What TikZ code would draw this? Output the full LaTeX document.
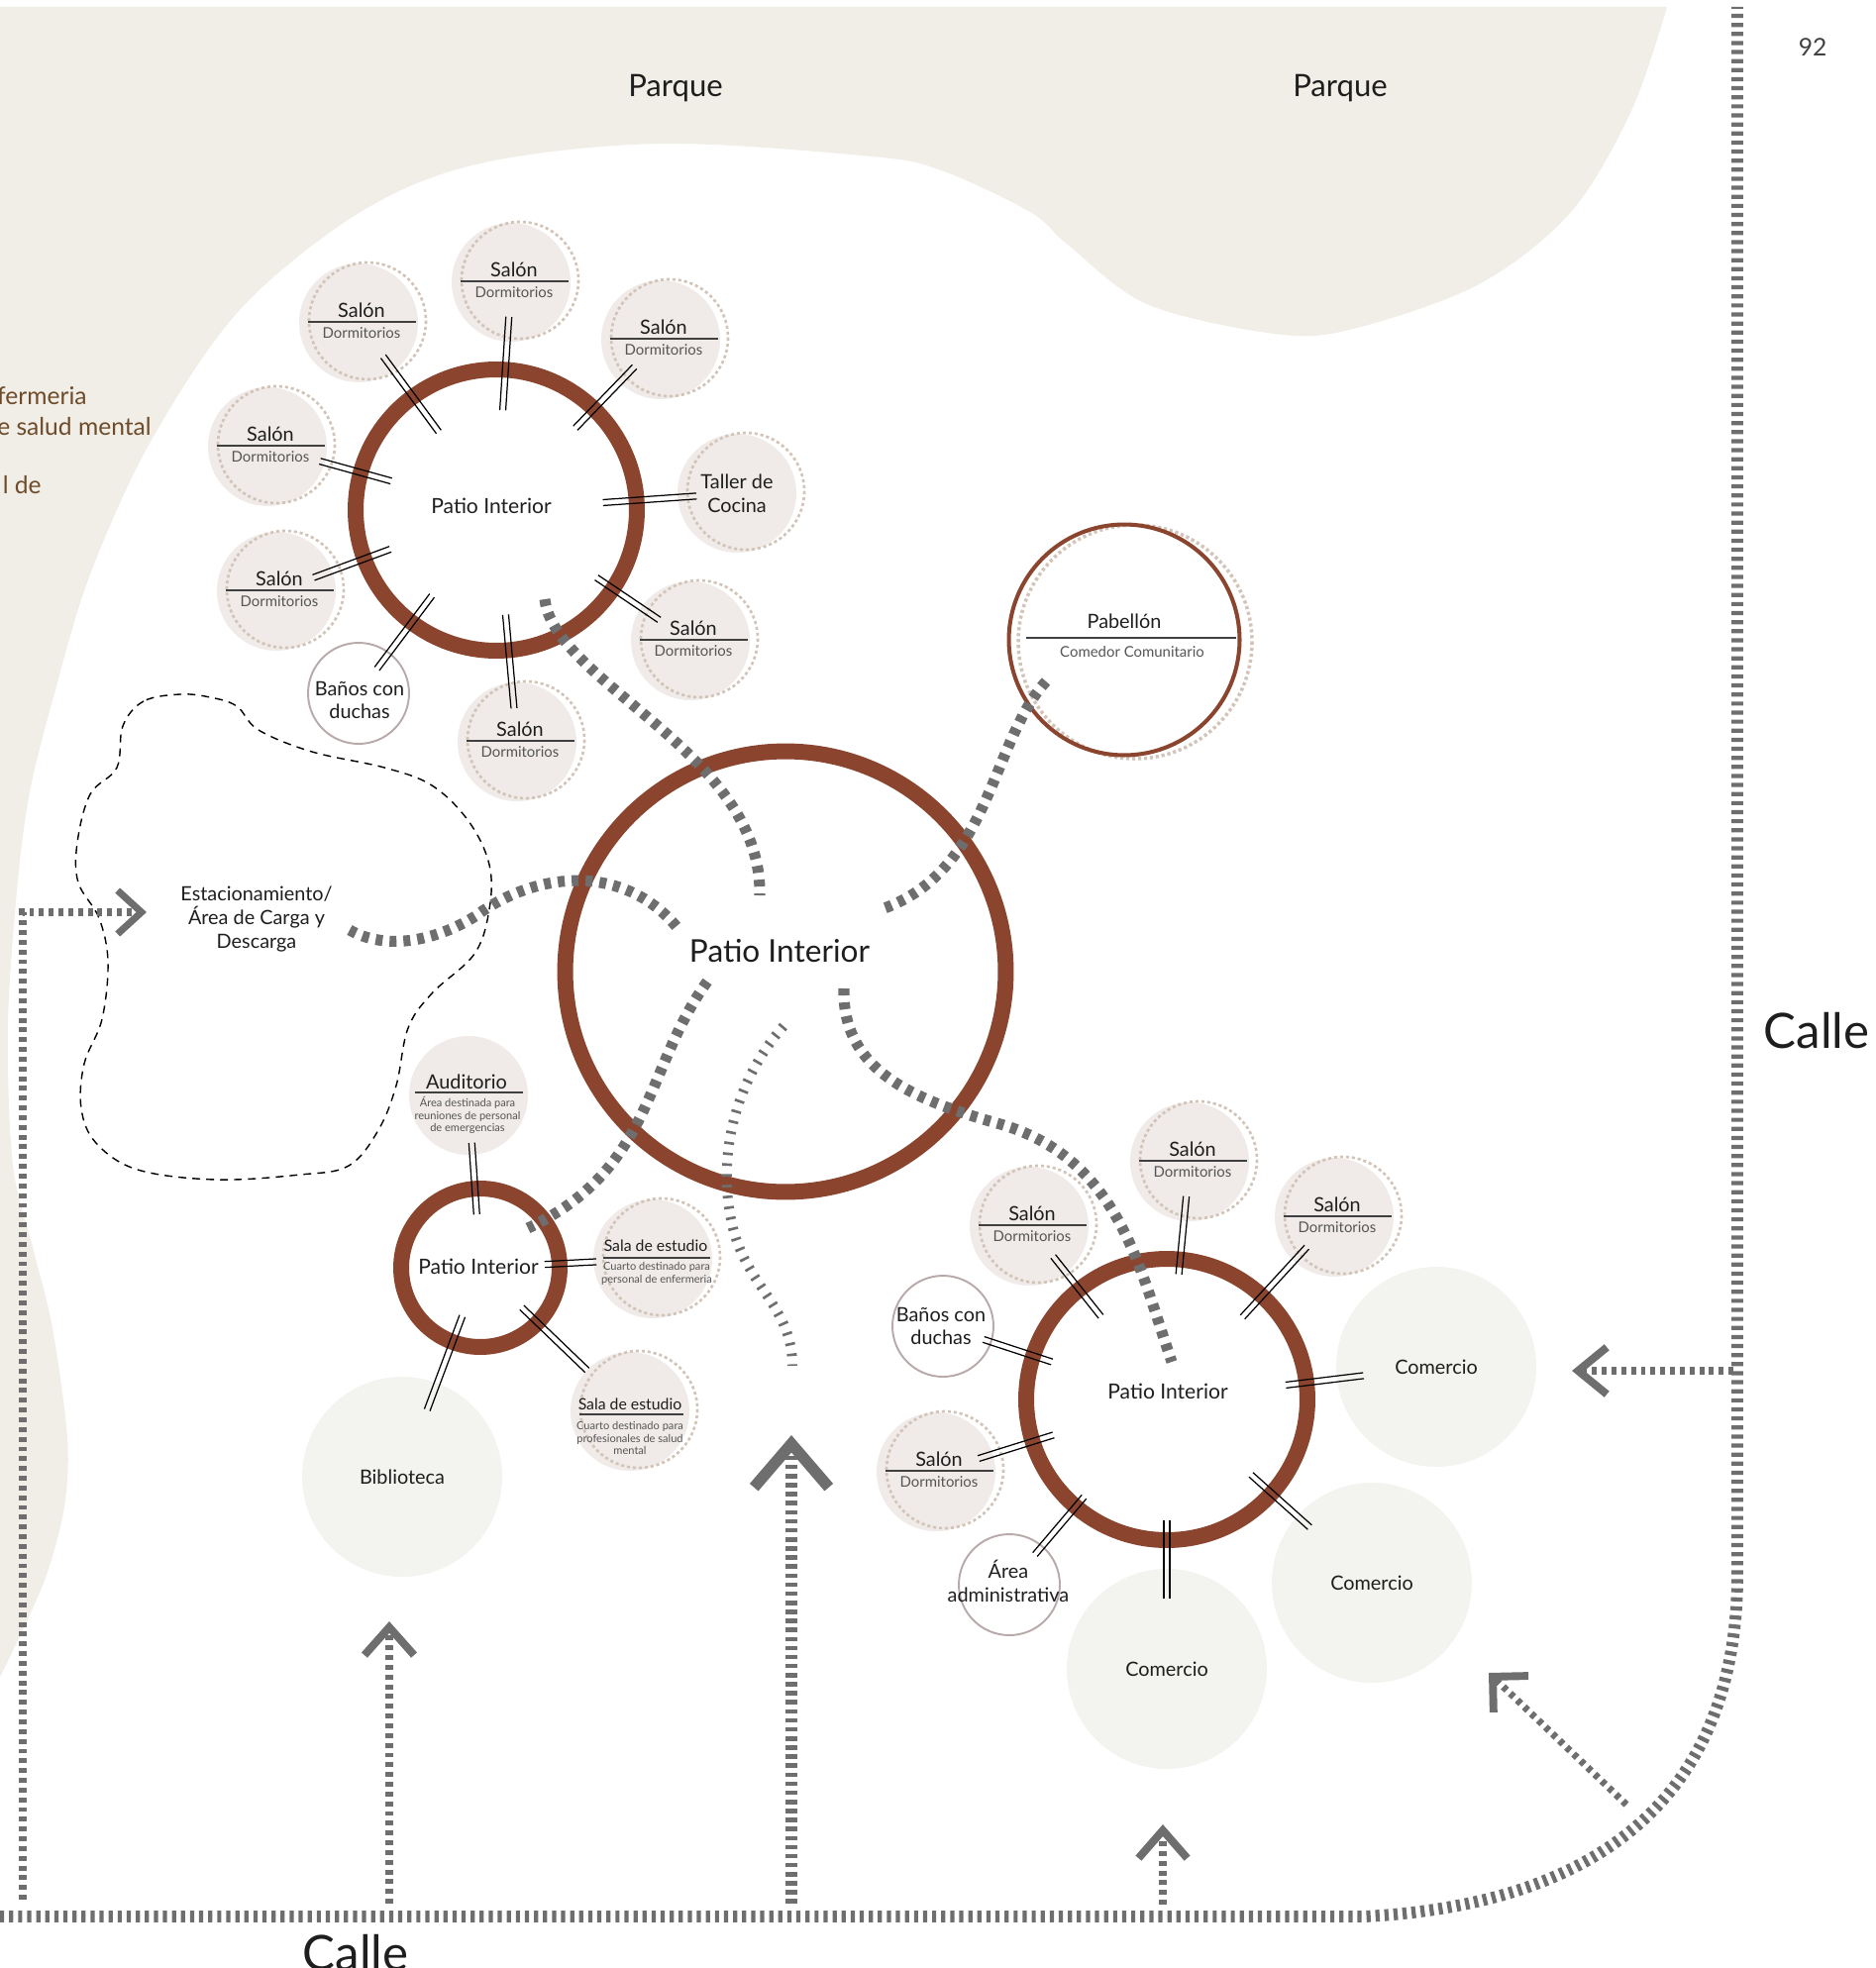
\documentclass[tikz,border=0pt]{standalone}
\usepackage{fontspec}
\setmainfont{Lato}
\usetikzlibrary{arrows.meta,calc}
\definecolor{park}{RGB}{240,238,230}
\definecolor{roomfill}{RGB}{240,235,232}
\definecolor{shopfill}{RGB}{243,244,239}
\definecolor{patiobrown}{RGB}{139,69,46}
\definecolor{dotcol}{RGB}{210,196,184}
\definecolor{mauve}{RGB}{185,170,170}
\definecolor{route}{RGB}{110,110,110}
\definecolor{txt}{RGB}{30,30,30}
\definecolor{subtxt}{RGB}{85,85,85}
\definecolor{brownlbl}{RGB}{110,75,42}

\newcommand{\tmain}{\fontsize{11.3}{13.6}\selectfont}
\newcommand{\tsub}{\fontsize{8.5}{10}\selectfont}
\newcommand{\ttiny}{\fontsize{6.3}{7.2}\selectfont}
\newcommand{\tpatio}{\fontsize{12}{14}\selectfont}
\newcommand{\tbig}{\fontsize{18}{21}\selectfont}
\newcommand{\tpark}{\fontsize{17.7}{21}\selectfont}
\newcommand{\tstreet}{\fontsize{28}{33}\selectfont}

% salon with dormitorios: dotted rim, rule and the two texts
\newcommand{\salon}[1]{%
  \draw[satdots] ([shift={(9,-2)}]#1.center) circle (59);
  \draw[sepline] ([shift={(-51,-1)}]#1.center) -- ([shift={(58,-1)}]#1.center);
  \node[roomtitle] (#1-t) at ([shift={(3,-13)}]#1.center) {Salón};
  \node[roomsub] (#1-s) at ([shift={(3,10)}]#1.center) {Dormitorios};}

% double link between a room and its patio
\newcommand{\connect}[4]{%
  \foreach \sa/\sb in {90/-90,-90/90}
    \draw[link] ($(#1.center)!#3!(#2.center)!1.7pt!\sa:(#2.center)$) --
                ($(#2.center)!#4!(#1.center)!1.7pt!\sb:(#1.center)$);}

\begin{document}
\begin{tikzpicture}[x=0.02cm,y=-0.02cm,
  patio/.style={circle,draw=patiobrown,line width=9.1pt,minimum size=5.68cm,inner sep=0pt},
  room/.style={circle,fill=roomfill,minimum size=2.4cm,inner sep=0pt,text=txt,font=\tmain,align=center},
  wc/.style={circle,draw=mauve,line width=1.1pt,fill=white,minimum size=2.04cm,inner sep=0pt},
  shop/.style={circle,fill=shopfill,minimum size=4.04cm,inner sep=0pt,text=txt,font=\tmain},
  satdots/.style={draw=dotcol,line width=1.5pt,dash pattern=on 1.8pt off 1.6pt},
  sepline/.style={draw=txt!85,line width=0.8pt},
  lbl/.style={text=txt,font=\tmain,align=center,inner sep=0pt},
  roomtitle/.style={text=txt,font=\tmain,inner sep=0pt},
  roomsub/.style={text=subtxt,font=\tsub,inner sep=0pt},
  roomtiny/.style={text=subtxt,font=\ttiny,align=center,inner sep=0pt},
  sidetext/.style={anchor=east,inner sep=0pt,text=brownlbl,font=\fontsize{14}{16}\selectfont},
  link/.style={draw=black,line width=0.7pt},
  walk/.style={draw=route,line width=6.3pt,dash pattern=on 4pt off 4pt},
  trail/.style={draw=route,line width=5.7pt,dash pattern=on 1.5pt off 4.7pt},
  street/.style={draw=route,line width=6.8pt,dash pattern=on 2.4pt off 2.8pt},
  flow/.style={draw=route,line width=4.5pt,dash pattern=on 2.8pt off 2.8pt}]

\useasboundingbox (0,0) rectangle (1893,1987);

% park
\fill[park] (0,7) -- plot[smooth,tension=0.55] coordinates {(1683,7) (1647,112) (1586,214)
  (1495,286) (1374,330) (1295,338) (1160,308) (1079,248) (1040,214) (950,172) (880,158)
  (667,145) (485,165) (364,214) (242,313) (152,446) (91,580) (55,700) (30,800) (17,900)
  (8,1038) (13,1176) (33,1259) (53,1341) (68,1452) (65,1521) (47,1590) (20,1652) (0,1693)} -- cycle;

\node[text=txt,font=\tpark] (parque1) at (682,89) {Parque};
\node[text=txt,font=\tpark] (parque2) at (1353,89) {Parque};
\node[text=txt!85,font=\fontsize{14}{16}\selectfont] (page) at (1830,48) {92};

\node[sidetext] (lt1) at (88,400) {fermeria};
\node[sidetext] (lt2) at (153,431) {e salud mental};
\node[sidetext] (lt3) at (42,490) {l de};

% parking area
\draw[line width=0.8pt,dash pattern=on 4.5pt off 3.5pt] plot[smooth cycle,tension=0.6] coordinates {
  (182,701) (145,708) (124,733) (118,775) (91,802) (78,851) (79,891) (100,927) (109,971)
  (103,1029) (85,1074) (82,1119) (97,1154) (139,1181) (218,1191) (303,1186) (352,1177)
  (382,1141) (400,1096) (412,1038) (436,1003) (479,963) (494,918) (494,873) (473,829)
  (436,793) (388,775) (315,759) (261,737) (239,713) (212,704)};
\node[lbl] (estac) at (259,928) {Estacionamiento/\\Área de Carga y\\Descarga};

% rooms round the upper patio
\node[room] (sA1) at (516,285) {};
\node[room] (sA2) at (362,326) {};
\node[room] (sA3) at (667,343) {};
\node[room] (sA4) at (270,451) {};
\node[room] (taller) at (744,498) {Taller de\\Cocina};
\node[room] (sA5) at (279,597) {};
\node[room] (sA6) at (697,647) {};
\node[wc] (banA) at (362,700) {};
\node[lbl] (banA-l) at (363,707) {Baños con\\duchas};
\node[room] (sA7) at (522,749) {};
\foreach \r in {sA1,sA2,sA3,sA4,sA5,sA6,sA7} {\salon{\r}}
\draw[satdots] ([shift={(9,-2)}]taller.center) circle (59);

% rooms round the lower right patio
\node[room] (sC1) at (1201,1173) {};
\node[room] (sC2) at (1039,1238) {};
\node[room] (sC3) at (1347,1229) {};
\node[wc] (banC) at (952,1339) {};
\node[lbl] (banC-l) at (950,1339) {Baños con\\duchas};
\node[room] (sC4) at (945,1486) {};
\node[wc] (adm) at (1019,1600) {};
\node[lbl] (adm-l) at (1018,1596) {Área\\administrativa};
\node[shop] (com1) at (1450,1380) {Comercio};
\node[shop] (com2) at (1385,1598) {Comercio};
\node[shop] (com3) at (1178,1685) {Comercio};
\foreach \r in {sC1,sC2,sC3,sC4} {\salon{\r}}

% rooms round the small patio
\node[room] (aud) at (473,1106) {};
\node[roomtitle] (aud-t) at ([shift={(-2,-14)}]aud.center) {Auditorio};
\draw[sepline] ([shift={(-54,-3)}]aud.center) -- ([shift={(55,-3)}]aud.center);
\node[roomtiny] (aud-s) at ([shift={(-1,20)}]aud.center) {Área destinada para\\reuniones de personal\\de emergencias};

\node[room] (sala1) at (659,1271) {};
\draw[satdots] ([shift={(9,-2)}]sala1.center) circle (59);
\node[roomtitle,font=\fontsize{9}{11}\selectfont] (sala1-t) at ([shift={(3,-13)}]sala1.center) {Sala de estudio};
\draw[sepline] ([shift={(-50,-1)}]sala1.center) -- ([shift={(58,-1)}]sala1.center);
\node[roomtiny] (sala1-s) at ([shift={(4,15)}]sala1.center) {Cuarto destinado para\\personal de enfermeria};

\node[room] (sala2) at (636,1425) {};
\draw[satdots] ([shift={(9,-2)}]sala2.center) circle (59);
\node[roomtitle,font=\fontsize{9}{11}\selectfont] (sala2-t) at ([shift={(0,-7)}]sala2.center) {Sala de estudio};
\draw[sepline] ([shift={(-51,3)}]sala2.center) -- ([shift={(54,3)}]sala2.center);
\node[roomtiny] (sala2-s) at ([shift={(0,27)}]sala2.center) {Cuarto destinado para\\profesionales de salud\\mental};

\node[shop] (bib) at (406,1491) {Biblioteca};

% pabellon
\draw[satdots,line width=2pt] (1146,648) circle (118);
\node[circle,draw=patiobrown,line width=2.3pt,minimum size=4.66cm,inner sep=0pt] (pab) at (1135,646) {};
\node[roomtitle] (pab-t) at ([shift={(0,-19)}]pab.center) {Pabellón};
\draw[sepline] ([shift={(-99,-2)}]pab.center) -- ([shift={(113,-2)}]pab.center);
\node[roomsub] (pab-s) at ([shift={(8,12)}]pab.center) {Comedor Comunitario};

% patios
\node[patio] (A) at (501,515) {};
\node[patio,minimum size=8.9cm] (B) at (793,981) {};
\node[patio] (C) at (1178,1413) {};
\node[patio,minimum size=3.2cm] (D) at (485,1280) {};
\node[text=txt,font=\tpatio] (A-l) at (496,511) {Patio Interior};
\node[text=txt,font=\tbig] (B-l) at (787,960) {Patio Interior};
\node[text=txt,font=\tpatio] (C-l) at (1179,1405) {Patio Interior};
\node[text=txt,font=\tpatio] (D-l) at (483,1279) {Patio Interior};

% links upper patio
\connect{sA1}{A}{0.70cm}{2.02cm}
\connect{sA2}{A}{0.84cm}{1.96cm}
\connect{sA3}{A}{0.76cm}{2.30cm}
\connect{sA4}{A}{1.10cm}{2.20cm}
\connect{taller}{A}{0.82cm}{2.16cm}
\connect{sA5}{A}{0.80cm}{2.28cm}
\connect{sA6}{A}{0.76cm}{2.44cm}
\connect{banA}{A}{0.62cm}{2.16cm}
\connect{sA7}{A}{0.68cm}{2.12cm}

% links lower right patio
\connect{sC1}{C}{0.70cm}{2.54cm}
\connect{sC2}{C}{0.78cm}{2.14cm}
\connect{sC3}{C}{0.82cm}{2.26cm}
\connect{banC}{C}{0.86cm}{2.44cm}
\connect{sC4}{C}{0.90cm}{2.40cm}
\connect{adm}{C}{0.80cm}{2.58cm}
\connect{com1}{C}{1.48cm}{2.42cm}
\connect{com2}{C}{1.68cm}{2.28cm}
\connect{com3}{C}{1.42cm}{2.44cm}

% links small patio
\connect{aud}{D}{0.96cm}{1.08cm}
\connect{sala1}{D}{1.14cm}{1.30cm}
\connect{sala2}{D}{1.20cm}{1.16cm}
\connect{bib}{D}{1.44cm}{1.04cm}

% walks between patios
\coordinate (wA) at (550,605);   \coordinate (wB1) at (767,904);
\coordinate (wP) at (1056,688);  \coordinate (wB2) at (890,918);
\coordinate (wE) at (353,939);   \coordinate (wB3) at (685,938);
\coordinate (wB4) at (714,991);  \coordinate (wD) at (533,1240);
\coordinate (wB5) at (852,998);  \coordinate (wC) at (1183,1375);
\coordinate (wB6) at (791,1036); \coordinate (wS) at (800,1379);
\draw[walk] (wA) .. controls (560,690) and (770,760) .. (wB1);
\draw[walk] (wP) .. controls (1000,750) and (1000,880) .. (wB2);
\draw[walk] (wE) .. controls (390,960) and (440,950) .. (480,925)
  .. controls (540,880) and (630,870) .. (wB3);
\draw[walk] (wB4) .. controls (650,1080) and (660,1180) .. (wD);
\draw[walk] (wB5) .. controls (850,1080) and (920,1110) .. (1010,1135)
  .. controls (1130,1170) and (1150,1280) .. (wC);
\draw[trail] (wB6) .. controls (735,1100) and (725,1180) .. (740,1240)
  .. controls (755,1300) and (800,1320) .. (wS);

% streets
\draw[street] (0,1935) -- (1377,1935) .. controls (1630,1922) and (1754,1800) .. (1754,1590) -- (1754,7);
\node[text=txt,font=\tstreet] (calle1) at (1834,1041) {Calle};
\node[text=txt,font=\tstreet,anchor=base] (calle2) at (359,1989) {Calle};

% entries from the street
\coordinate (in1) at (23,1918);   \coordinate (to1) at (148,921);
\coordinate (in2) at (393,1922);  \coordinate (to2) at (393,1637);
\coordinate (in3) at (799,1922);  \coordinate (to3) at (799,1449);
\coordinate (in4) at (1174,1923); \coordinate (to4) at (1174,1842);
\coordinate (in5) at (1750,1384); \coordinate (to5) at (1587,1384);
\coordinate (in6) at (1642,1822); \coordinate (to6) at (1503,1689);
\draw[flow,line width=4pt,-{Straight Barb[length=13.7pt,width=25pt,line width=4pt,sharp]}] (in1) |- (to1);
\draw[flow,-{Straight Barb[length=16pt,width=28.5pt,line width=4.5pt,sharp]}] (in2) -- (to2);
\draw[flow,line width=6.8pt,dash pattern=on 2.6pt off 2.6pt,-{Straight Barb[length=25pt,width=43pt,line width=6.5pt,sharp]}] (in3) -- (to3);
\draw[flow,-{Straight Barb[length=16pt,width=28pt,line width=4.5pt,sharp]}] (in4) -- (to4);
\draw[flow,line width=5pt,-{Straight Barb[length=16.5pt,width=27pt,line width=4.5pt,sharp]}] (in5) -- (to5);
\draw[flow,line width=4pt,-{Straight Barb[length=14.5pt,width=29pt,line width=4.5pt,sharp]}] (in6) -- (to6);

\end{tikzpicture}
\end{document}
